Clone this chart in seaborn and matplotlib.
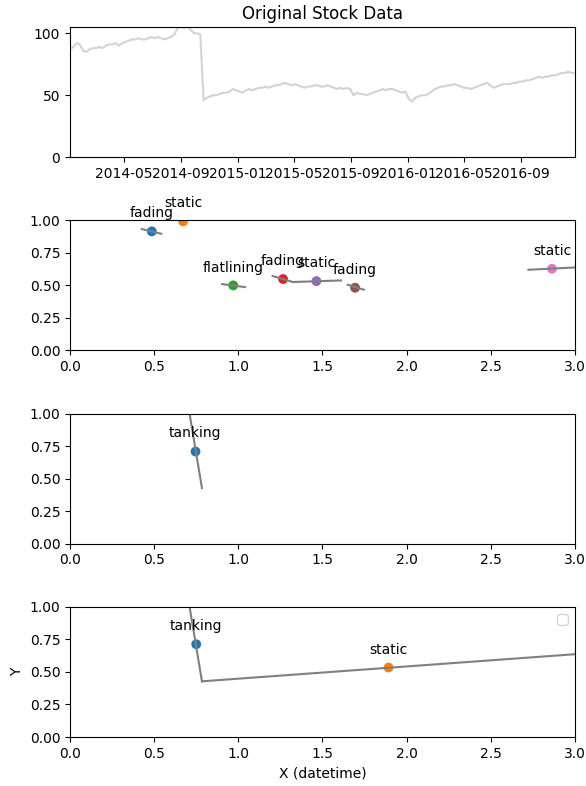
import numpy as np
import pandas as pd
import matplotlib
matplotlib.use("Agg")
import matplotlib.pyplot as plt
import matplotlib.dates as mdates
import seaborn as sns

# weekly closing prices
stock = [87, 89, 92, 91,
         86, 85, 87, 88,
         88, 89, 88, 90, 91,
         91, 92, 90, 92,
         93, 94, 95, 95,
         96, 95, 95, 96, 97,
         96, 97, 96, 95,
         96, 97, 99, 104, 105,
         104, 105, 103, 100,
         100, 99, 46, 48,
         49, 50, 50, 51, 52,
         52, 53, 55, 54,
         53, 52, 54, 55,
         54, 55, 56, 56,
         57, 56, 57, 58, 58,
         59, 60, 59, 58,
         59, 58, 57, 56, 57,
         57, 58, 58, 57,
         57, 58, 57, 56,
         55, 56, 55, 56, 55,
         50, 52, 51, 51,
         50, 51, 52, 53,
         54, 55, 54, 55, 55,
         54, 53, 52, 53,
         47, 45, 48, 49, 50,
         50, 51, 53, 55,
         56, 57, 57, 58,
         58, 59, 58, 57, 56,
         56, 55, 56, 57,
         58, 59, 60, 58,
         56, 57, 58, 59, 59,
         59, 60, 60, 61,
         61, 62, 62, 63,
         64, 65, 64, 65, 65,
         66, 66, 67, 68,
         68, 69, 68, 68]
dates = pd.date_range("2014-01-05", periods=len(stock), freq="7D")

# panel 2: detected patterns
p2_x = [0.486, 0.672, 0.97, 1.266, 1.464, 1.694, 2.864]
p2_y = [0.915, 0.992, 0.50, 0.549, 0.533, 0.482, 0.628]
p2_lab = ["fading", "static", "flatlining", "fading", "static", "fading", "static"]
p2_x0 = [0.426, 0.62, 0.904, 1.204, 1.324, 1.65, 2.724]
p2_y0 = [0.933, 1.05, 0.51, 0.572, 0.526, 0.505, 0.62]
p2_x1 = [0.542, 0.72, 1.04, 1.324, 1.61, 1.746, 3.05]
p2_y1 = [0.897, 1.04, 0.487, 0.526, 0.538, 0.467, 0.641]

# panel 3
p3_x = [0.744]
p3_y = [0.713]
p3_lab = ["tanking"]
p3_x0 = [0.70]
p3_y0 = [1.08]
p3_x1 = [0.784]
p3_y1 = [0.428]

# panel 4
p4_x = [0.750, 1.893]
p4_y = [0.713, 0.534]
p4_lab = ["tanking", "static"]
p4_x0 = [0.70, 0.784]
p4_y0 = [1.08, 0.428]
p4_x1 = [0.784, 3.05]
p4_y1 = [0.428, 0.641]

fig = plt.figure(figsize=(5.86, 7.86), dpi=100)
axes = fig.subplots(4, 1)
fig.subplots_adjust(left=0.1195, right=0.981, top=0.9656, bottom=0.0623, hspace=0.485)

ax = axes[0]
sns.lineplot(x=dates, y=stock, color="lightgray", ax=ax)
ax.set_xlim(dates[0], dates[-1])
ax.set_ylim(0, 105)
ax.set_yticks([0, 50, 100])
ax.xaxis.set_major_locator(mdates.MonthLocator(bymonth=[1, 5, 9]))
ax.xaxis.set_major_formatter(mdates.DateFormatter("%Y-%m"))
ax.set_title("Original Stock Data")
ax.set_xlabel("")
ax.set_ylabel("")

colors = sns.color_palette("tab10")


def draw_panel(ax, xs, ys, labels, x0, y0, x1, y1):
    pts = pd.DataFrame({"x": xs, "y": ys, "k": range(len(xs))})
    sns.scatterplot(data=pts, x="x", y="y", hue="k", palette=colors[:len(xs)],
                    s=50, linewidth=0, legend=False, ax=ax)
    seg = pd.DataFrame({"x": x0 + x1, "y": y0 + y1,
                        "u": list(range(len(x0))) * 2})
    sns.lineplot(data=seg, x="x", y="y", units="u", estimator=None,
                 color="gray", lw=1.5, ax=ax)
    for xi, yi, t in zip(xs, ys, labels):
        ax.annotate(t, (xi, yi), xytext=(0, 10), textcoords="offset points",
                    ha="center", fontsize=10)
    ax.set_xlim(0, 3)
    ax.set_ylim(0, 1)
    ax.set_yticks([0, 0.25, 0.5, 0.75, 1.0])
    ax.set_xlabel("")
    ax.set_ylabel("")


draw_panel(axes[1], p2_x, p2_y, p2_lab, p2_x0, p2_y0, p2_x1, p2_y1)
draw_panel(axes[2], p3_x, p3_y, p3_lab, p3_x0, p3_y0, p3_x1, p3_y1)
draw_panel(axes[3], p4_x, p4_y, p4_lab, p4_x0, p4_y0, p4_x1, p4_y1)
axes[3].set_xlabel("X (datetime)")
axes[3].set_ylabel("Y")
axes[3].legend(handles=[], loc="upper right")

fig.savefig("out.png", dpi=100)
